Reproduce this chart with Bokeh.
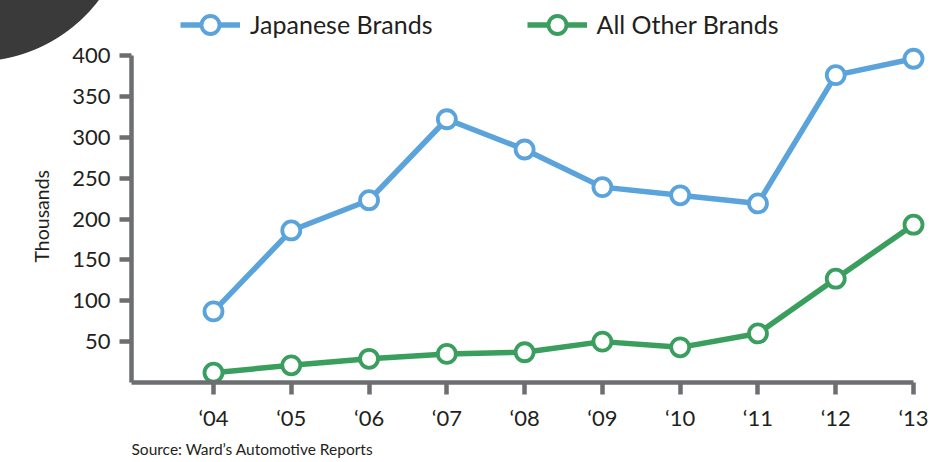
from bokeh.plotting import figure
from bokeh.models import Range1d, Legend, LegendItem, Title, FixedTicker
from bokeh.embed import file_html
from bokeh.resources import INLINE

# ---- data ----
years = [4, 5, 6, 7, 8, 9, 10, 11, 12, 13]
year_labels = ["‘04", "‘05", "‘06", "‘07", "‘08", "‘09", "‘10", "‘11", "‘12", "‘13"]
japanese = [87, 186, 223, 322, 285, 239, 229, 219, 376, 396]
other = [12, 21, 29, 35, 37, 50, 43, 60, 127, 193]
y_ticks = [50, 100, 150, 200, 250, 300, 350, 400]

BLUE = "#5ba3db"
GREEN = "#3a9e5f"
AXIS = "#6d6e71"
TEXT = "#231f20"
FONT = "Lato"

W, H = 934, 462
FL, FB = 131, 382          # frame left / bottom in pixels
PX_X, PX_Y = 77.78, 0.8175  # pixels per unit
X0 = 4 - (213 - FL) / PX_X
X1 = X0 + (W - FL) / PX_X
Y0, Y1 = 0, FB / PX_Y

p = figure(width=W, height=H, output_backend="svg", toolbar_location=None,
           x_range=Range1d(X0, X1), y_range=Range1d(Y0, Y1),
           min_border_left=FL, min_border_right=0, min_border_top=0,
           min_border_bottom=H - FB)
p.outline_line_color = None
p.grid.visible = False
p.border_fill_color = None
p.background_fill_color = "white"
# decorative dark disc in the top-left corner, painted behind the transparent canvas border
p.styles = {
    "background": "radial-gradient(circle 156px at -25px -94px, #3a3a3a 99.4%, #ffffff 100%)",
}

# series
lj = p.line(years, japanese, line_color=BLUE, line_width=5.5, line_join="round")
sj = p.scatter(years, japanese, size=18, fill_color="white", line_color=BLUE, line_width=3.8)
lo = p.line(years, other, line_color=GREEN, line_width=5.5, line_join="round")
so = p.scatter(years, other, size=18, fill_color="white", line_color=GREEN, line_width=3.8)

# axes
for ax in (p.xaxis[0], p.yaxis[0]):
    ax.axis_line_color = AXIS
    ax.axis_line_width = 4.5
    ax.major_tick_line_color = AXIS
    ax.major_tick_line_width = 4.5
    ax.major_tick_out = 12
    ax.major_tick_in = 0
    ax.minor_tick_out = 0
    ax.minor_tick_in = 0
    ax.major_label_text_font = FONT
    ax.major_label_text_font_size = "22px"
    ax.major_label_text_color = TEXT
    ax.major_label_standoff = 9

p.xaxis.ticker = FixedTicker(ticks=years)
p.xaxis.major_label_overrides = {y: l for y, l in zip(years, year_labels)}
p.xaxis.bounds = (X0, 13)
p.yaxis.ticker = FixedTicker(ticks=y_ticks)
p.yaxis.bounds = (0, 400)

# y axis title, centred on the 0..400 axis extent
p.add_layout(Title(text="Thousands", align="left", offset=120, text_font=FONT,
                   text_font_style="normal", text_font_size="19.5px",
                   text_color=TEXT, standoff=34), "left")

# legend
GH = 45
legend = Legend(items=[LegendItem(label="Japanese Brands", renderers=[lj, sj]),
                       LegendItem(label="All Other Brands", renderers=[lo, so])],
                orientation="horizontal", location=(180 - FL, FB - (24 + GH / 2)),
                border_line_color=None, background_fill_alpha=0,
                glyph_width=60, glyph_height=GH, label_text_font=FONT,
                label_text_font_size="25px", label_text_color=TEXT,
                spacing=94, label_standoff=10, padding=0, margin=0)
p.add_layout(legend)

# source note
p.add_layout(Title(text="Source: Ward’s Automotive Reports", align="left",
                   text_font=FONT, text_font_style="normal", text_font_size="15.5px",
                   text_color=TEXT, standoff=8), "below")

open("out.html", "w").write(file_html(p, INLINE))
